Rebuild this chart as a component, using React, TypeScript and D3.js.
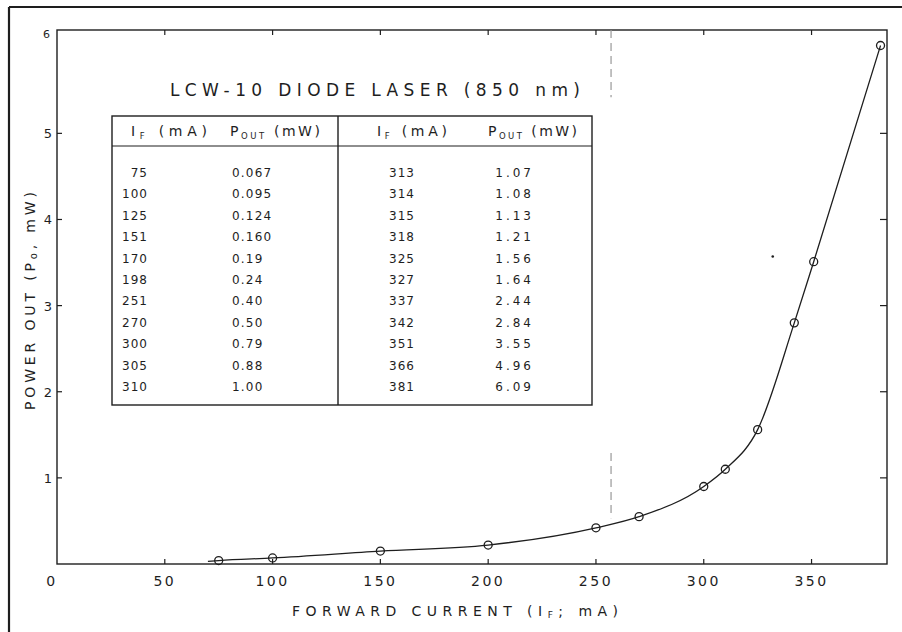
import React from "react";
import * as d3 from "d3";

// ---- data ----
const xTicks = [0, 50, 100, 150, 200, 250, 300, 350];
const yTicks = [1, 2, 3, 4, 5];
const yTopLabel = "6";

const markerCurrent = [75, 100, 150, 200, 250, 270, 300, 310, 325, 342, 351, 382];
const markerPower = [0.04, 0.07, 0.15, 0.22, 0.42, 0.55, 0.9, 1.1, 1.56, 2.8, 3.51, 6.02];

const curveCurrent = [70, 75, 100, 150, 200, 250, 270, 300, 310, 325, 342, 351, 382];
const curvePower = [0.03, 0.04, 0.07, 0.15, 0.22, 0.42, 0.55, 0.9, 1.1, 1.56, 2.8, 3.51, 6.02];

const thresholdCurrent = 257;
const thresholdSegments = [
  [6.2, 5.42],
  [1.29, 0.53],
];
const strayCurrent = [332];
const strayPower = [3.57];

const tableTitle = "LCW-10  DIODE  LASER  (850 nm)";
const leftCurrent = ["75", "100", "125", "151", "170", "198", "251", "270", "300", "305", "310"];
const leftPower = ["0.067", "0.095", "0.124", "0.160", "0.19", "0.24", "0.40", "0.50", "0.79", "0.88", "1.00"];
const rightCurrent = ["313", "314", "315", "318", "325", "327", "337", "342", "351", "366", "381"];
const rightPower = ["1.07", "1.08", "1.13", "1.21", "1.56", "1.64", "2.44", "2.84", "3.55", "4.96", "6.09"];

export default function App() {
  const W = 902, H = 632;
  const left = 57, right = 887, top = 30, bottom = 564;
  const x = d3.scaleLinear().domain([0, 385]).range([left, right]);
  const y = d3.scaleLinear().domain([0, 6.2]).range([bottom, top]);
  const ink = "#1e1e1e";
  const font = "'DejaVu Sans', sans-serif";

  const line = d3
    .line<number>()
    .x((_, i) => x(curveCurrent[i]))
    .y((d) => y(d))
    .curve(d3.curveMonotoneX);

  // table geometry
  const tL = 112, tR = 592, tT = 116, tB = 405, tMid = 338, tHead = 146;
  const rowY0 = 177, rowStep = 21.4;

  const sub = (main: string, s: string, rest: string, xPos: number, yPos: number, len: number) => (
    <text x={xPos} y={yPos} fontSize={14} fill={ink} fontFamily={font} textLength={len} lengthAdjust="spacing">
      {main}
      <tspan fontSize={8.5} dy={3}>{s}</tspan>
      <tspan dy={-3}>{rest}</tspan>
    </text>
  );

  return (
    <svg width={W} height={H} style={{ position: "absolute", left: 0, top: 0, background: "#fff" }}>
      <rect x={0} y={0} width={W} height={H} fill="#fff" />
      {/* outer border */}
      <line x1={9} y1={7} x2={W} y2={7} stroke={ink} strokeWidth={2.2} />
      <line x1={9} y1={7} x2={9} y2={H} stroke={ink} strokeWidth={2.2} />

      {/* plot frame */}
      <rect x={left} y={top} width={right - left} height={bottom - top} fill="none" stroke={ink} strokeWidth={1.4} />

      {/* x ticks */}
      {xTicks.filter((t) => t > 0).map((t) => (
        <g key={"xt" + t}>
          <line x1={x(t)} x2={x(t)} y1={bottom} y2={bottom - 5} stroke={ink} strokeWidth={1.2} />
          <line x1={x(t)} x2={x(t)} y1={top} y2={top + 5} stroke={ink} strokeWidth={1.2} />
        </g>
      ))}
      {xTicks.map((t) => (
        <text key={"xl" + t} x={t === 0 ? x(t) - 5 : x(t)} y={586} fontSize={14} fill={ink} fontFamily={font} textAnchor="middle" letterSpacing={2.5}>
          {t}
        </text>
      ))}

      {/* y ticks */}
      {yTicks.map((t) => (
        <g key={"yt" + t}>
          <line x1={left} x2={left + 5} y1={y(t)} y2={y(t)} stroke={ink} strokeWidth={1.2} />
          <line x1={right} x2={right - 7} y1={y(t)} y2={y(t)} stroke={ink} strokeWidth={1.2} />
          <text x={52} y={y(t) + 5} fontSize={13} fill={ink} fontFamily={font} textAnchor="end">
            {t}
          </text>
        </g>
      ))}
      <text x={50} y={y(6.2) + 8} fontSize={11} fill={ink} fontFamily={font} textAnchor="end">
        {yTopLabel}
      </text>

      {/* axis labels */}
      <text x={292} y={616} fontSize={14} fill={ink} fontFamily={font} textLength={326} lengthAdjust="spacing">
        FORWARD  CURRENT  (I<tspan fontSize={9} dy={2}>F</tspan><tspan dy={-2}>; mA)</tspan>
      </text>
      <text
        transform={`translate(35, 410) rotate(-90)`}
        x={0}
        y={0}
        fontSize={14}
        fill={ink}
        fontFamily={font}
        textLength={218}
        lengthAdjust="spacing"
      >
        POWER  OUT  (P<tspan fontSize={10} dy={2}>o</tspan><tspan dy={-2}>, mW)</tspan>
      </text>

      {/* threshold dashed line */}
      {thresholdSegments.map((s, i) => (
        <line
          key={"th" + i}
          x1={x(thresholdCurrent)}
          x2={x(thresholdCurrent)}
          y1={y(s[0])}
          y2={y(s[1])}
          stroke="#999"
          strokeWidth={1.2}
          strokeDasharray="8,5"
        />
      ))}

      {/* curve */}
      <path d={line(curvePower) || ""} fill="none" stroke={ink} strokeWidth={1.3} />
      {markerCurrent.map((c, i) => (
        <circle key={"m" + i} cx={x(c)} cy={y(markerPower[i])} r={4} fill="none" stroke={ink} strokeWidth={1.3} />
      ))}
      {strayCurrent.map((c, i) => (
        <circle key={"s" + i} cx={x(c)} cy={y(strayPower[i])} r={1.3} fill={ink} />
      ))}

      {/* table */}
      <text x={170} y={96} fontSize={17} fill={ink} fontFamily={font} textLength={410} lengthAdjust="spacing">
        {tableTitle}
      </text>
      <rect x={tL} y={tT} width={tR - tL} height={tB - tT} fill="none" stroke={ink} strokeWidth={1.4} />
      <line x1={tL} x2={tR} y1={tHead} y2={tHead} stroke={ink} strokeWidth={1.2} />
      <line x1={tMid} x2={tMid} y1={tT} y2={tB} stroke={ink} strokeWidth={1.4} />
      {sub("I", "F", " (mA)", 131, 136, 76)}
      {sub("P", "OUT", " (mW)", 230, 136, 90)}
      {sub("I", "F", " (mA)", 377, 136, 70)}
      {sub("P", "OUT", " (mW)", 488, 136, 89)}
      {leftCurrent.map((v, i) => (
        <text key={"lc" + i} x={148} y={rowY0 + i * rowStep} fontSize={12} fill={ink} fontFamily={font} textAnchor="end" letterSpacing={1}>
          {v}
        </text>
      ))}
      {leftPower.map((v, i) => (
        <text key={"lp" + i} x={232} y={rowY0 + i * rowStep} fontSize={12} fill={ink} fontFamily={font} letterSpacing={1.2}>
          {v}
        </text>
      ))}
      {rightCurrent.map((v, i) => (
        <text key={"rc" + i} x={402} y={rowY0 + i * rowStep} fontSize={12} fill={ink} fontFamily={font} textAnchor="middle" letterSpacing={1}>
          {v}
        </text>
      ))}
      {rightPower.map((v, i) => (
        <text key={"rp" + i} x={534} y={rowY0 + i * rowStep} fontSize={12} fill={ink} fontFamily={font} textAnchor="end" letterSpacing={3}>
          {v}
        </text>
      ))}
    </svg>
  );
}
